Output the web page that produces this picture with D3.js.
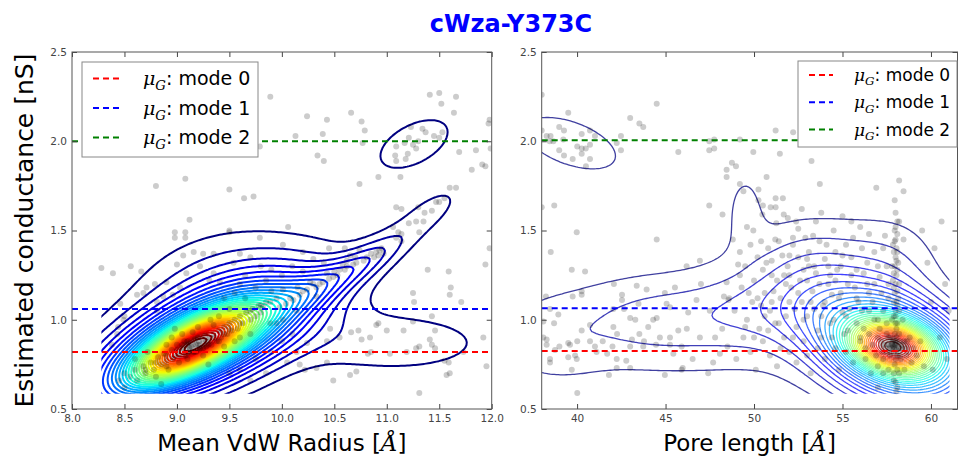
<!DOCTYPE html>
<html><head><meta charset="utf-8">
<script src="https://cdn.jsdelivr.net/npm/d3@7"></script>
<style>body{margin:0;background:#fff}svg{display:block}</style>
</head><body><svg id="c" width="958" height="456"></svg>
<script>
// ---------------- DATA ----------------
const title = "cWza-Y373C";
const yLabel = "Estimated conductance [nS]";
const yTicks = [0.5, 1.0, 1.5, 2.0, 2.5];
const leftXTicks = [8.0, 8.5, 9.0, 9.5, 10.0, 10.5, 11.0, 11.5, 12.0];
const rightXTicks = [40, 45, 50, 55, 60];
const modeNames = ["mode 0", "mode 1", "mode 2"];
const modeColors = ["#ff0000", "#0000ff", "#008000"];
const leftModes = [0.82, 1.06, 2.0];
const rightModes = [0.825, 1.065, 2.005];

// density model components: [amplitude, centre x, centre y, sd x, sd y, correlation]
const leftComps = [
  [0.55, 9.15, 0.85, 0.36, 0.13, 0.75],
  [0.5, 9.2, 0.87, 0.62, 0.21, 0.65],
  [0.07, 9.4, 0.95, 0.7, 0.25, 0.4],
  [0.11, 10.3, 1.17, 0.38, 0.13, 0.8],
  [0.06, 10.85, 1.35, 0.25, 0.1, 0.75],
  [0.04, 11.4, 1.6, 0.28, 0.13, 0.7],
  [0.055, 11.26, 1.985, 0.3, 0.125, 0.5],
  [0.05, 11.1, 0.87, 0.68, 0.13, 0.0],
  [0.05, 9.5, 1.25, 0.6, 0.2, 0.15]
];
const rightComps = [
  [0.5, 57.85, 0.85, 1.5, 0.09, -0.2],
  [0.55, 57.9, 0.84, 2.8, 0.2, -0.35],
  [0.045, 44.5, 1.0, 3.0, 0.15, 0.0],
  [0.05, 50.0, 1.05, 2.5, 0.15, 0.0],
  [0.05, 53.5, 1.1, 2.0, 0.17, 0.0],
  [0.05, 53.5, 1.35, 3.0, 0.18, 0.0],
  [0.035, 58.0, 1.3, 1.8, 0.2, 0.0],
  [0.035, 49.5, 1.64, 0.75, 0.15, 0.0],
  [0.03, 47.0, 0.95, 9.0, 0.3, 0.0],
  [0.03, 38.5, 0.88, 2.2, 0.16, 0.0],
  [0.05, 39.6, 1.99, 2.5, 0.14, -0.5]
];
const nLevels = 35;

const leftPoints = [
[8.80,1.75],[9.08,1.79],[9.50,1.73],[9.64,1.68],[9.12,1.56],[9.5,1.49],[8.98,1.49],[9.08,1.49],
[9.89,2.25],[11.41,2.26],[11.50,2.27],[11.52,2.21],[11.66,2.25],[10.24,2.14],[10.43,2.12],[10.66,2.16],[10.76,2.11],[10.79,2.06],[10.39,2.04],[10.13,2.03],[10.77,1.99],[10.34,1.92],[10.40,1.89],[9.79,1.97],[11.98,2.12],[11.97,2.10],[11.64,2.16],[11.69,1.94],[11.85,1.95],[11.99,1.96],[11.81,1.84],[11.91,1.87],[11.94,1.86],[10.92,1.80],[11.13,1.80],[10.74,1.76],[9.73,1.69],[10.06,1.52],[9.79,1.46],
[11.23,2.08],[11.34,2.07],[11.37,2.05],[11.21,2.02],[11.17,1.99],[11.28,1.96],[11.09,1.97],[11.08,1.92],[11.20,1.93],[11.45,2.03],[11.53,2.05],[11.50,2.02],[11.09,1.89],[11.18,1.90],[11.30,2.0],[11.25,1.98],
[11.09,1.63],[11.14,1.62],[11.30,1.63],[11.36,1.60],[11.43,1.61],[11.47,1.66],[11.50,1.66],[11.55,1.68],[11.60,1.74],[11.66,1.74],[11.21,1.54],[11.28,1.55],[11.35,1.55],[11.11,1.49],[11.14,1.48],[11.31,1.49],
[11.94,1.31],[11.59,1.27],[11.61,1.18],[11.60,1.14],[11.39,1.28],[11.25,1.15],[11.26,1.10],[11.71,1.10],[11.43,1.02],[11.16,0.94],[11.46,0.94],[11.41,0.89],[11.43,0.86],[11.46,0.84],[11.28,0.84],[11.55,0.77],[11.59,0.76],[11.57,0.69],[11.60,0.70],[11.31,0.59],[11.95,0.74],[11.92,0.90],[11.73,0.82],[10.90,0.97],[10.84,0.90],[10.73,0.94],[10.66,0.93],[10.76,0.89],[10.55,0.90],[10.46,0.95],[10.82,0.81],[10.85,0.82],[11.03,0.81],[11.19,0.82],[11.31,0.85],[10.65,0.69],[10.71,0.71],[10.43,0.76],[10.33,0.73],[10.17,0.75],[10.22,0.72],[10.24,0.87],[10.43,0.88],[10.14,0.82],[10.49,0.66],[11.0,0.94],[11.25,0.99],[10.92,0.98],[10.01,1.42],[11.98,1.40],
[10.90,1.38],[10.93,1.39],[10.97,1.37],[10.81,1.35],[10.71,1.32],[10.68,1.31],[10.62,1.30],[10.55,1.28],[10.49,1.24],[10.39,1.21],[10.33,1.18],[10.24,1.17],[10.17,1.14],[10.11,1.11],[10.04,1.09],[9.98,1.07],[10.01,1.17],[9.89,1.10],[11.09,1.46],[11.06,1.52],[11.14,1.44],[10.74,1.39],[10.65,1.36],[10.53,1.25],[10.43,1.26],[10.27,1.21],[10.33,1.13],[10.14,1.05],[10.01,1.00],[9.95,0.98],[9.82,1.07],[9.89,0.98],
[10.92,1.36],[10.95,1.40],[10.88,1.35],[10.78,1.33],[10.6,1.28],[10.58,1.31],[10.45,1.23],[10.36,1.2],[10.2,1.16],[10.08,1.12],
[10.5,1.27],[10.62,1.33],[10.7,1.35],[10.85,1.37],[10.3,1.2],[10.15,1.18],[9.95,1.12],[9.8,1.08],[9.7,1.05],[9.6,0.98],
[8.28,1.29],[8.39,1.26],[8.56,1.30],[8.66,1.27],[8.68,1.15],[8.71,1.18],[8.62,1.14],[8.46,1.09],[8.50,1.02],[8.49,1.0],[8.44,0.96],[8.38,0.86],[8.43,0.92],[8.81,1.10],[8.79,1.20],[8.98,1.46],[9.08,1.46],[9.16,1.38],[9.06,1.36],[9.25,1.37],[9.35,1.37],[9.50,1.50],[9.60,1.37],[9.00,1.31],[9.09,1.26],[9.22,1.30],[9.35,1.26],[8.90,1.21],[8.96,1.14],[8.81,1.05],[8.87,1.13],[9.03,1.18],[9.41,1.21],[9.54,1.32],[9.31,1.22],
[8.45,0.66],[8.5,0.70],[8.55,0.68],[8.6,0.72],[8.62,0.66],[8.68,0.74],[8.7,0.70],[8.75,0.76],[8.78,0.72],[8.8,0.68],[8.82,0.79],[8.85,0.75],[8.88,0.81],[8.9,0.77],[8.92,0.72],[8.95,0.83],[8.97,0.79],[9.0,0.86],[9.0,0.81],[9.02,0.76],[9.05,0.84],[9.07,0.88],[9.08,0.80],[9.1,0.85],[9.12,0.83],[9.13,0.87],[9.15,0.86],[9.15,0.84],[9.17,0.89],[9.18,0.82],[9.2,0.86],[9.21,0.88],[9.22,0.84],[9.25,0.87],[9.27,0.91],[9.28,0.85],[9.3,0.89],[9.33,0.86],[9.35,0.92],[9.38,0.88],[9.4,0.94],[9.42,0.90],[9.45,0.96],[9.48,0.92],[9.5,0.98],[9.52,0.94],[9.55,1.0],[9.58,0.95],[9.6,1.02],[9.63,0.98],[9.66,1.04],[9.7,1.0],[9.72,1.06],[9.75,1.02],[9.78,1.08],[9.8,1.04],[9.85,1.1],[9.1,0.78],[9.25,0.8],[9.05,0.92],[8.95,0.9],[9.35,0.97],[8.72,0.82],[8.6,0.78],[9.45,0.85],[9.6,0.9],[9.3,0.75],[8.85,0.64],[9.15,0.93],[9.5,1.06],[9.65,1.12],[9.9,1.16],[9.4,1.02],[8.98,0.95],[8.5,0.62],[9.7,0.92],[9.55,0.88],[9.2,0.96],[9.32,1.0],[8.9,0.86],
[9.55,1.15],[9.6,1.2],[9.75,1.18],[9.85,1.22],[9.45,1.12],[9.65,1.25],[9.9,1.28],[9.8,1.3],[9.7,1.35],[10.0,1.25],[10.1,1.3],[10.2,1.27],[10.3,1.34],[10.4,1.32],[10.45,1.4],[10.6,1.4],[10.2,1.38],
[9.6,0.72],[9.75,0.78],[9.9,0.82],[10.0,0.88],[9.85,0.7],[10.05,0.76],[9.5,0.7],[9.7,0.66],[10.1,0.92],[9.12,0.84],[9.18,0.86],[9.1,0.86],[9.2,0.84],[9.16,0.82],
[9.14,0.85],[9.19,0.87],[9.22,0.86],[9.11,0.82],[9.24,0.89],[9.06,0.83],[9.28,0.88],[9.02,0.8],[9.32,0.9],[8.96,0.78],[9.36,0.9],[8.9,0.74],[9.42,0.93],
[9.0,0.83],[9.05,0.86],[9.1,0.88],[9.2,0.9],[9.25,0.84],[9.3,0.86],[8.9,0.8],[8.8,0.76],[8.7,0.72],[9.4,0.88],[9.45,0.92],[9.5,0.95]
];

const rightPoints = [
[38.0,2.26],[38.0,2.06],[38.28,2.03],[38.5,2.03],[38.66,2.0],[38.45,2.0],[38.99,2.08],[39.26,2.06],[39.5,2.16],[39.22,2.01],[38.99,1.95],[39.26,1.92],[39.75,1.90],[40.01,1.97],[40.26,2.04],[40.26,1.96],[40.26,1.93],[40.49,1.96],[40.5,1.86],[40.73,1.98],[40.73,2.06],[40.73,1.90],[41.01,2.03],[42.24,1.99],[42.48,2.03],[42.48,1.95],[43.0,2.13],[43.52,2.10],[43.74,2.08],[44.5,2.21],[45.72,1.94],[38.0,1.63],[38.71,1.64],[39.98,1.49],[44.5,1.45],[47.47,2.0],[47.47,1.95],[47.75,2.01],[47.75,1.96],[47.47,1.64],[48.22,1.59],[48.45,1.84],[48.45,1.80],
[51.22,2.06],[52.21,2.05],[49.96,1.94],[51.46,1.93],[53.25,1.89],[48.75,1.88],[48.98,1.86],[49.2,2.01],[49.2,1.76],[49.4,1.72],[50.71,1.80],[50.25,1.73],[50.25,1.67],[50.5,1.64],[50.94,1.63],[51.22,1.63],[51.22,1.68],[51.63,1.68],[50.47,1.59],[51.68,1.59],[51.91,1.57],[53.72,1.76],[56.91,1.74],[57.95,1.67],[58.2,1.78],[58.45,1.72],[58.2,1.55],[57.4,1.99],[49.96,1.50],[51.26,1.54],[52.38,1.55],[52.5,1.51],[53.34,1.47],[52.2,1.46],[57.4,1.47],[58.45,1.45],
[38.51,1.38],[39.7,1.28],[40.45,1.27],[38.24,1.13],[39.75,1.13],[40.26,1.16],[40.26,1.14],[38.94,1.03],[38.47,1.06],[38.09,0.99],[38.7,0.98],[40.26,0.94],[40.73,0.97],[40.01,0.88],[39.5,0.87],[39.6,0.86],[38.28,0.86],[38.28,0.89],[38.75,0.83],[38.47,0.78],[38.47,0.76],[39.5,0.79],[39.98,0.78],[39.89,0.80],[39.7,0.72],[40.01,0.59],[38.09,0.90],[39.0,0.85],[40.73,0.88],[41.01,0.85],[41.45,0.88],[41.1,0.82],[41.7,0.81],[42.08,1.20],[42.05,1.06],[42.05,0.96],[42.26,0.92],[42.0,0.85],[42.24,0.78],[42.24,0.73],[41.8,0.69],[42.54,1.14],[42.54,1.11],[42.65,1.06],[43.0,1.01],[43.1,0.89],[43.0,0.85],[42.78,0.77],[43.0,0.73],[43.37,1.19],[43.47,1.09],[43.29,1.00],[43.52,0.92],[43.78,0.88],[43.74,0.85],[43.93,1.17],[44.02,0.96],[44.3,1.00],[44.5,1.01],[44.46,0.86],[44.68,0.90],[44.96,1.15],[45.06,1.09],[45.25,1.07],[45.25,0.90],[45.25,0.86],[44.96,0.69],[45.53,1.18],[45.72,0.94],[45.44,0.81],[45.91,0.85],[45.97,0.73],[45.91,0.72],[46.19,1.30],[46.28,1.04],[46.53,0.78],[46.94,1.33],[46.75,1.11],[46.94,0.90],[47.41,0.70],[47.69,0.76],[48.07,0.81],[48.3,1.13],[48.55,1.11],[48.45,1.21],
[48.8,1.45],[49.2,1.38],[49.5,1.3],[49.8,1.42],[50.2,1.35],[50.5,1.28],[50.8,1.4],[51.0,1.33],[51.3,1.22],[51.6,1.36],[51.9,1.3],[52.2,1.42],[52.5,1.35],[52.8,1.28],[53.1,1.38],[53.4,1.3],[53.7,1.44],[54.0,1.34],[54.3,1.25],[54.6,1.38],[54.9,1.3],[55.2,1.42],[55.5,1.35],[55.8,1.28],[56.1,1.4],[56.4,1.32],
[48.6,1.12],[48.9,1.05],[49.3,1.18],[49.6,1.0],[49.9,1.1],[50.3,0.95],[50.6,1.15],[50.9,1.05],[51.2,0.98],[51.5,1.12],[51.8,1.02],[52.1,1.18],[52.4,0.96],[52.7,1.1],[53.0,1.02],[53.3,1.16],[53.6,0.94],[53.9,1.08],[54.2,1.2],[54.5,1.0],[54.8,1.12],[55.1,0.92],[55.4,1.06],[55.7,1.18],
[48.5,0.85],[49.0,0.78],[49.4,0.9],[49.8,0.82],[50.1,0.72],[50.5,0.88],[50.9,0.8],[51.3,0.74],[51.7,0.9],[52.0,0.82],[52.4,0.76],[52.8,0.88],[53.2,0.7],[53.6,0.84],[54.0,0.78],[54.4,0.9],[54.8,0.72],[55.2,0.82],[55.6,0.76],[56.0,0.88],
[49.2,1.25],[50.0,1.22],[51.0,1.25],[52.0,1.25],[53.0,1.22],[53.5,1.55],[54.5,1.5],[55.5,1.55],[56.5,1.48],[56.8,1.2],[57.2,1.15],[57.5,1.3],[57.0,1.0],[56.5,1.05],[56.2,0.95],[56.6,0.7],[57.0,0.62],[60.0,1.1],[60.5,0.9],[60.8,1.2],[59.8,1.32],[60.2,1.4],[60.6,1.55],[59.5,1.5],[60.1,0.72],[60.9,0.78],[61.0,1.05],
[49.1,1.31],[49.7,1.15],[50.4,1.08],[50.7,1.32],[51.1,1.16],[51.4,1.44],[51.8,1.2],[52.3,1.06],[52.6,1.22],[52.9,1.46],[53.2,1.1],[53.5,1.26],[53.8,1.02],[54.1,1.42],[54.4,1.14],[54.7,1.28],[55.0,1.04],[55.3,1.2],[55.6,1.46],[55.9,1.1],[56.2,1.26],[56.5,1.15],[56.8,1.38],[57.1,1.24],[57.3,1.4],[57.6,1.12],
[50.2,1.12],[50.6,1.02],[51.0,1.1],[51.4,0.98],[51.7,1.25],[52.0,1.1],[52.5,1.15],[52.8,1.0],[53.1,1.3],[53.4,1.06],[53.7,1.2],[54.0,1.1],[54.3,0.98],[54.6,1.22],[54.9,1.15],[55.2,1.02],[55.5,1.25],[55.8,1.12],[56.1,1.05],[56.4,1.2],[56.7,1.1],[57.0,1.3],[57.3,1.05],[57.6,1.2],[55.0,1.36],[54.2,1.3],[53.0,1.34],[52.0,1.36],[51.2,1.45],[50.4,1.44],[49.6,1.52],[56.0,1.52],[55.0,1.58],[53.8,1.6],[52.7,1.62],
[49.5,0.96],[50.0,0.9],[50.8,0.94],[51.5,0.84],[52.2,0.9],[53.0,0.8],[53.8,0.9],[54.6,0.84],[55.3,0.94],[55.8,0.98],[56.3,0.78],[48.2,0.95],[47.5,1.05],[47.0,1.2],[46.2,0.95],[47.8,0.9],
[56.0,0.9],[56.3,0.84],[56.5,0.92],[56.7,0.86],[56.9,0.8],[57.0,0.9],[57.1,0.95],[57.2,0.85],[57.3,0.78],[57.4,0.88],[57.5,0.92],[57.5,0.82],[57.6,0.86],[57.7,0.8],[57.7,0.9],[57.8,0.84],[57.8,0.87],[57.85,0.85],[57.9,0.82],[57.9,0.89],[58.0,0.86],[58.0,0.84],[58.05,0.9],[58.1,0.8],[58.1,0.87],[58.2,0.84],[58.2,0.92],[58.3,0.86],[58.3,0.78],[58.4,0.83],[58.5,0.88],[58.6,0.8],[58.7,0.85],[58.8,0.9],[58.9,0.76],[59.0,0.84],[59.2,0.8],[59.4,0.88],[59.6,0.74],[57.0,0.74],[57.3,0.7],[57.6,0.72],[57.9,0.7],[58.2,0.7],[58.5,0.72],[57.5,0.98],[57.8,1.0],[58.1,0.98],[58.4,1.0],[56.8,1.0],
[57.7,0.85],[57.95,0.86],[58.05,0.83],[57.85,0.88],[58.15,0.85],[57.75,0.82],[57.9,0.85],[58.0,0.88],[57.6,0.9],[58.25,0.8],
[57.8,0.86],[57.92,0.84],[58.02,0.87],[57.72,0.88],[58.12,0.82],[57.65,0.84],[58.22,0.88],[57.55,0.86],[58.32,0.84],[57.45,0.84],[58.42,0.86],[57.35,0.86],[58.55,0.84],[57.25,0.82],[58.65,0.88],[57.15,0.88],[58.75,0.82],
[58.0,1.05],[58.05,1.1],[57.95,1.15],[58.0,1.2],[58.05,1.25],[57.95,1.3],[58.0,1.35],[58.05,1.4],[58.0,1.45],[57.95,1.5],[58.1,1.55],[58.0,1.6],[58.0,0.65],[58.05,0.6],[57.95,0.75],[58.15,1.12],[57.85,1.22],[58.15,1.32],[57.85,1.42],[58.2,1.05],
[58.1,1.08],[57.9,1.18],[58.1,1.28],[57.9,1.38],[58.1,1.48],[57.9,1.02],[58.0,0.98],[58.1,0.72],[57.9,0.66],[58.0,0.78],
[58.0,1.02],[58.1,1.16],[57.9,1.26],[58.05,1.33],[57.95,1.44],[58.1,1.38],[58.0,1.52],[58.05,0.95],[57.95,0.92],[58.1,0.62],[57.9,1.1],[58.2,1.2],[57.8,1.3]
];

// ---------------- DRAW ----------------
const svg = d3.select("#c");
const FONT = "DejaVu Sans, Verdana, sans-serif";

const jetR = d3.scaleLinear().domain([0, 0.35, 0.66, 0.89, 1]).range([0, 0, 1, 1, 0.5]).clamp(true);
const jetG = d3.scaleLinear().domain([0, 0.125, 0.375, 0.64, 0.91, 1]).range([0, 0, 1, 1, 0, 0]).clamp(true);
const jetB = d3.scaleLinear().domain([0, 0.11, 0.34, 0.65, 1]).range([0.5, 1, 1, 0, 0]).clamp(true);
const jet = t => d3.rgb(jetR(t) * 255, jetG(t) * 255, jetB(t) * 255).toString();

const y = d3.scaleLinear().domain([0.5, 2.5]).range([409, 52]);

svg.append("text").attr("x", 511).attr("y", 32).attr("text-anchor", "middle")
  .attr("font-family", FONT).attr("font-weight", "bold").attr("font-size", 24)
  .attr("fill", "#0000ff").text(title);

svg.append("text").attr("transform", "translate(33,230.5) rotate(-90)")
  .attr("text-anchor", "middle").attr("font-family", FONT).attr("font-size", 25)
  .attr("fill", "#000").text(yLabel);

function panel(opts) {
  const x = d3.scaleLinear().domain(opts.xDomain).range(opts.xRange);
  const g = svg.append("g");
  const id = "clip" + opts.name;
  const [cx0, cx1] = opts.clipX, [cy0, cy1] = opts.clipY;
  svg.append("clipPath").attr("id", id).append("rect")
    .attr("x", x(cx0)).attr("y", y(cy1)).attr("width", x(cx1) - x(cx0)).attr("height", y(cy0) - y(cy1));
  const clipA = "clipA" + opts.name;
  svg.append("clipPath").attr("id", clipA).append("rect")
    .attr("x", opts.xRange[0]).attr("y", 52).attr("width", opts.xRange[1] - opts.xRange[0]).attr("height", 357);

  // density grid
  const [gx0, gx1] = opts.gridX, [gy0, gy1] = opts.gridY;
  const nx = 240, ny = 160;
  const vals = new Float64Array(nx * ny);
  for (let j = 0; j < ny; j++) {
    const yy = gy1 - j * (gy1 - gy0) / (ny - 1);
    for (let i = 0; i < nx; i++) {
      const xx = gx0 + i * (gx1 - gx0) / (nx - 1);
      let s = 0;
      for (const [a, mx, my, sx, sy, r] of opts.comps) {
        const dx = (xx - mx) / sx, dy = (yy - my) / sy;
        const q = (dx * dx - 2 * r * dx * dy + dy * dy) / (1 - r * r);
        s += a * Math.exp(-0.5 * q);
      }
      vals[j * nx + i] = s;
    }
  }
  const zmax = d3.max(vals);
  const levels = d3.range(1, nLevels + 1).map(k => k * zmax / (nLevels + 1));
  const contours = d3.contours().size([nx, ny]).thresholds(levels)(vals);
  const toX = c => x(gx0 + (c - 0.5) * (gx1 - gx0) / (nx - 1));
  const toY = c => y(gy1 - (c - 0.5) * (gy1 - gy0) / (ny - 1));
  const pathOf = mp => mp.coordinates.map(poly => poly.map(ring =>
    "M" + ring.map(p => toX(p[0]).toFixed(2) + "," + toY(p[1]).toFixed(2)).join("L") + "Z").join("")).join("");
  const cg = g.append("g").attr("clip-path", `url(#${id})`);
  cg.selectAll("path").data(contours).join("path")
    .attr("d", pathOf).attr("fill", "none")
    .attr("stroke", (d, i) => jet(i / (nLevels - 1)))
    .attr("stroke-width", opts.lw).attr("stroke-opacity", opts.lop)
    .attr("stroke-linejoin", "round");

  // scatter
  g.append("g").attr("clip-path", `url(#${clipA})`).selectAll("circle").data(opts.points).join("circle")
    .attr("cx", d => x(d[0])).attr("cy", d => y(d[1])).attr("r", 3)
    .attr("fill", "#000").attr("fill-opacity", 0.2);

  // mode lines
  g.selectAll("line.mode").data(opts.modes).join("line").attr("class", "mode")
    .attr("x1", opts.xRange[0]).attr("x2", opts.xRange[1])
    .attr("y1", d => y(d)).attr("y2", d => y(d))
    .attr("stroke", (d, i) => modeColors[i]).attr("stroke-width", 2).attr("stroke-dasharray", "6,4");

  // frame & ticks
  const tk = (ax) => ax.tickSizeOuter(0);
  const gb = g.append("g").attr("transform", "translate(0,409)")
    .call(tk(d3.axisBottom(x).tickValues(opts.xTicks).tickSize(-5).tickPadding(6).tickFormat(opts.xFmt)));
  const gt = g.append("g").attr("transform", "translate(0,52)")
    .call(tk(d3.axisTop(x).tickValues(opts.xTicks).tickSize(-5).tickFormat("")));
  const gl = g.append("g").attr("transform", `translate(${opts.xRange[0]},0)`)
    .call(tk(d3.axisLeft(y).tickValues(yTicks).tickSize(-5).tickPadding(5).tickFormat(d3.format(".1f"))));
  const gr = g.append("g").attr("transform", `translate(${opts.xRange[1]},0)`)
    .call(tk(d3.axisRight(y).tickValues(yTicks).tickSize(-5).tickFormat("")));
  [gb, gt, gl, gr].forEach(a => {
    a.select(".domain").remove();
    a.selectAll("line").attr("stroke", "#444");
    a.selectAll("text").attr("font-family", FONT).attr("font-size", 10.5).attr("fill", "#444");
  });
  g.append("rect").attr("x", opts.xRange[0]).attr("y", 52)
    .attr("width", opts.xRange[1] - opts.xRange[0]).attr("height", 357)
    .attr("fill", "none").attr("stroke", "#555").attr("stroke-width", 1);

  // x label
  const xl = g.append("text").attr("x", (opts.xRange[0] + opts.xRange[1]) / 2).attr("y", 451)
    .attr("text-anchor", "middle").attr("font-family", FONT).attr("font-size", 23).attr("fill", "#000");
  xl.append("tspan").text(opts.xLabel + " [");
  xl.append("tspan").attr("font-family", "DejaVu Serif, serif").attr("font-style", "italic").text("Å");
  xl.append("tspan").text("]");

  // legend
  const L = opts.legend;
  g.append("rect").attr("x", L.x).attr("y", L.y).attr("width", L.w).attr("height", L.h)
    .attr("fill", "#fff").attr("stroke", "#888").attr("stroke-width", 1);
  modeNames.forEach((m, i) => {
    const yy = L.y + L.r0 + i * L.dy;
    g.append("line").attr("x1", L.x + L.l0).attr("x2", L.x + L.l1).attr("y1", yy).attr("y2", yy)
      .attr("stroke", modeColors[i]).attr("stroke-width", 2).attr("stroke-dasharray", "6,4");
    const t = g.append("text").attr("x", L.x + L.t0).attr("y", yy + L.fs * 0.36)
      .attr("font-family", FONT).attr("font-size", L.fs).attr("fill", "#000");
    t.append("tspan").attr("font-family", "DejaVu Serif, serif").attr("font-style", "italic").text("μ");
    t.append("tspan").attr("font-family", "DejaVu Serif, serif").attr("font-style", "italic")
      .attr("font-size", L.fs * 0.7).attr("dy", L.fs * 0.25).text("G");
    t.append("tspan").attr("dy", -L.fs * 0.25).text(": " + m);
  });
}

panel({
  name: "L", xDomain: [8, 12], xRange: [72, 491.7], xTicks: leftXTicks, xFmt: d3.format(".1f"),
  comps: leftComps, points: leftPoints, modes: leftModes, lw: 2, lop: 1,
  gridX: [7.8, 12.6], gridY: [0.3, 2.7], clipX: [8.28, 12], clipY: [0.585, 2.5],
  xLabel: "Mean VdW Radius",
  legend: {x: 82, y: 62, w: 176, h: 95, r0: 16.5, dy: 29.5, l0: 11, l1: 40, t0: 61, fs: 19}
});
panel({
  name: "R", xDomain: [38, 61.5], xRange: [541.7, 957.5], xTicks: rightXTicks, xFmt: d3.format("d"),
  comps: rightComps, points: rightPoints, modes: rightModes, lw: 1.3, lop: 0.75,
  gridX: [36, 63], gridY: [0.3, 2.7], clipX: [38, 61.05], clipY: [0.585, 2.5],
  xLabel: "Pore length",
  legend: {x: 798, y: 61, w: 159, h: 86, r0: 14, dy: 27.3, l0: 11, l1: 35, t0: 56, fs: 17}
});
</script></body></html>
